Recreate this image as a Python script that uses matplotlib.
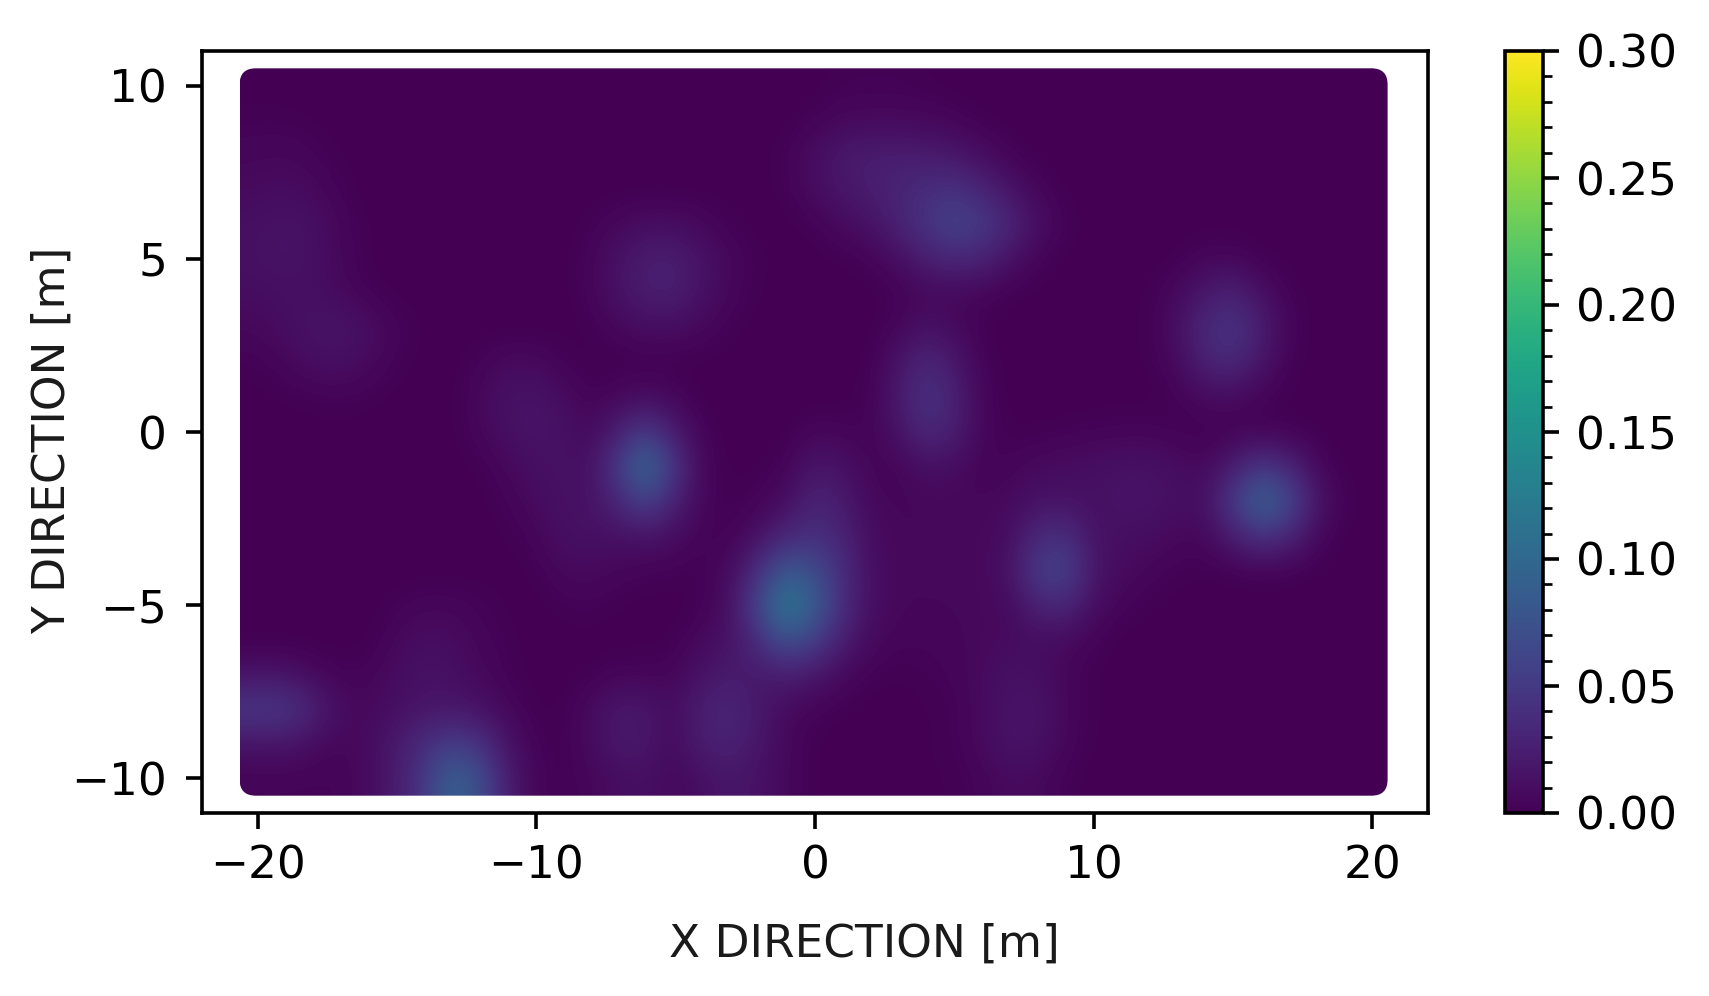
import numpy as np
import matplotlib
matplotlib.use("Agg")
import matplotlib.pyplot as plt
from matplotlib.patches import FancyBboxPatch
from matplotlib.ticker import MultipleLocator

#values, in 0.001 units
#one row per y (10 down to -10), one column per x (-20 to 20), both every 1 m
X_DIR=list(range(-20,21))
Y_DIR=list(range(10,-11,-1))
FIELD=[
[0,0,0,0,0,0,0,0,0,0, 0,0,0,0,0,0,0,0,0,0, 0,2,2,2,1,0,0,0,0,0, 0,0,0,0,0,0,0,0,0,0, 0],
[2,2,1,0,0,0,0,0,0,0, 0,0,0,0,0,0,0,0,0,0, 3,6,7,7,6,4,1,0,0,0, 0,0,0,0,0,0,0,0,0,0, 0],
[5,6,4,1,0,0,0,0,0,0, 0,0,0,0,0,0,0,0,0,3, 10,20,24,24,22,18,10,3,0,0, 0,0,0,0,0,0,0,0,0,0, 0],
[8,10,8,3,0,0,0,0,0,0, 0,0,0,0,0,0,0,0,0,2, 10,18,24,30,38,42,30,15,5,0, 0,0,0,0,0,0,0,0,0,0, 0],
[12,15,13,6,1,0,0,0,0,0, 0,0,2,6,10,10,6,2,0,0, 2,8,14,28,45,60,52,32,12,3, 0,0,0,0,0,0,0,0,0,0, 0],
[13,15,13,6,1,0,0,0,0,0, 0,0,4,14,24,25,15,6,2,0, 0,1,3,10,25,32,28,14,3,0, 0,0,0,1,5,5,1,0,0,0, 0],
[10,12,12,8,3,0,0,0,0,0, 0,0,4,14,24,25,14,5,1,0, 0,0,0,2,5,6,4,1,0,0, 0,0,1,8,20,28,12,2,0,0, 0],
[6,10,15,17,12,5,1,0,0,0, 0,0,1,6,10,10,6,2,0,0, 0,0,0,5,14,8,1,0,0,0, 0,0,2,12,36,46,24,4,0,0, 0],
[2,5,10,12,8,3,0,0,3,8, 8,3,0,0,0,0,0,0,0,0, 0,0,1,15,34,20,3,0,0,0, 0,0,1,8,28,34,16,2,0,0, 0],
[0,1,2,3,2,0,0,0,6,14, 16,10,3,6,10,5,0,0,0,0, 0,0,2,20,44,28,5,0,0,0, 0,0,0,2,8,8,2,0,0,0, 0],
[0,0,0,0,0,0,0,0,5,12, 16,14,7,25,50,22,3,0,0,0, 5,4,3,14,34,25,5,1,1,2, 3,4,4,2,1,2,3,2,0,0, 0],
[0,0,0,0,0,0,0,0,1,6, 12,14,12,50,106,46,6,0,1,3, 18,14,4,4,12,10,3,4,8,10, 12,14,14,10,6,24,46,30,6,0, 0],
[0,0,0,0,0,0,0,0,0,3, 8,14,13,32,58,28,5,1,3,10, 30,22,7,5,6,6,6,8,14,14, 12,16,16,12,14,52,100,66,16,2, 0],
[0,0,0,0,0,0,0,0,0,1, 4,12,13,12,15,10,3,2,12,32, 40,30,10,6,6,6,7,10,35,40, 14,12,10,6,6,24,42,30,6,0, 0],
[0,0,0,0,0,0,0,0,0,0, 1,7,8,5,3,2,2,8,40,80, 70,38,12,6,6,6,7,14,54,60, 18,8,5,2,1,1,3,1,0,0, 0],
[0,0,0,0,0,2,5,5,3,1, 0,2,3,1,0,0,1,12,60,128, 90,38,12,6,6,6,7,8,28,32, 10,4,1,0,0,0,0,0,0,0, 0],
[0,0,0,0,0,6,11,10,5,2, 0,0,0,0,0,1,8,14,38,72, 55,25,8,4,4,5,7,8,10,8, 3,0,0,0,0,0,0,0,0,0, 0],
[14,15,8,3,4,9,14,13,7,3, 0,0,1,4,4,5,15,22,18,24, 18,7,2,1,2,4,8,14,12,5, 1,0,0,0,0,0,0,0,0,0, 0],
[50,50,32,12,6,12,16,18,14,6, 1,1,8,20,18,9,26,32,20,8, 3,1,0,0,1,2,8,16,16,6, 1,0,0,0,0,0,0,0,0,0, 0],
[14,16,10,5,8,20,36,54,44,16, 3,1,8,20,18,8,24,28,18,6, 1,0,0,0,1,2,8,16,14,5, 1,0,0,0,0,0,0,0,0,0, 0],
[3,3,3,3,8,20,45,92,75,25, 5,1,5,10,12,6,12,18,14,6, 1,0,0,0,1,1,4,8,7,2, 0,0,0,0,0,0,0,0,0,0, 0],
]
X_TICKS=[-20,-10,0,10,20]
Y_TICKS=[-10,-5,0,5,10]
CBAR_TICKS=[0.0,0.05,0.10,0.15,0.20,0.25,0.30]

plt.rcParams['font.size']=10.9
plt.rcParams['axes.linewidth']=0.87
plt.rcParams['xtick.major.width']=0.87
plt.rcParams['ytick.major.width']=0.87
plt.rcParams['ytick.minor.width']=0.65
plt.rcParams['xtick.major.size']=3.8
plt.rcParams['ytick.major.size']=3.8
plt.rcParams['ytick.minor.size']=2.2
plt.rcParams['xtick.major.pad']=3.8
plt.rcParams['ytick.major.pad']=4.6

W,H=1709,996
fig=plt.figure(figsize=(W/300,H/300),dpi=300)
ax=fig.add_axes([202/W,1-813/H,(1428-202)/W,(813-51)/H])

values=np.array(FIELD)/1000.0
im=ax.imshow(values,cmap='viridis',vmin=0,vmax=0.30,interpolation='bicubic',aspect='auto',
             extent=[-20.65,20.55,Y_DIR[-1]-0.5,Y_DIR[0]+0.5])
#the map has rounded corners
box=FancyBboxPatch((-20.65,Y_DIR[-1]-0.5),41.2,21,
                   boxstyle="round,pad=0,rounding_size=0.58",mutation_aspect=0.8,
                   transform=ax.transData,fill=False,edgecolor='none')
im.set_clip_path(box)

ax.set_xlim(-22,22)
ax.set_ylim(-11,11)
ax.set_xticks(X_TICKS)
ax.set_yticks(Y_TICKS)
ax.set_xlabel("X DIRECTION [m]",color='#1a1a1a',va='center')
ax.set_ylabel("Y DIRECTION [m]",color='#1a1a1a',va='center')
#labels are not centred on the axes in the original
ax.xaxis.set_label_coords(0.5404,-0.1715)
ax.yaxis.set_label_coords(-0.1225,0.4886)

cax=fig.add_axes([1505/W,1-813/H,(1543-1505)/W,(813-51)/H])
cbar=fig.colorbar(im,cax=cax)
cbar.set_ticks(CBAR_TICKS)
cbar.ax.set_yticklabels(["%.2f"%t for t in CBAR_TICKS])
cbar.ax.yaxis.set_minor_locator(MultipleLocator(0.01))
cbar.ax.tick_params(axis='y',which='major',pad=4.1)

fig.savefig("out.png",dpi=300)
